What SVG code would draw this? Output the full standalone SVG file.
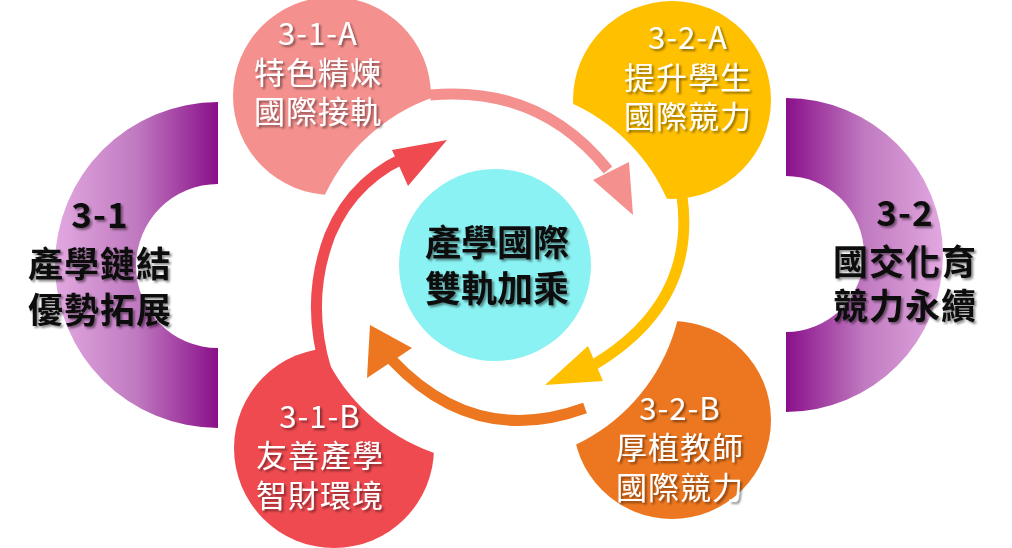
<svg xmlns="http://www.w3.org/2000/svg" width="1012" height="548" viewBox="0 0 1012 548">
<defs>
<linearGradient id="gl" x1="0" y1="0" x2="1" y2="0"><stop offset="0" stop-color="#e2a8e0"/><stop offset="0.5" stop-color="#c07ac0"/><stop offset="1" stop-color="#8a0f8a"/></linearGradient>
<linearGradient id="gr" x1="0" y1="0" x2="1" y2="0"><stop offset="0" stop-color="#8a0f8a"/><stop offset="0.5" stop-color="#c07ac0"/><stop offset="1" stop-color="#e2a8e0"/></linearGradient>
<filter id="sh" x="-10%" y="-10%" width="130%" height="130%"><feDropShadow dx="2" dy="2" stdDeviation="1.2" flood-color="#000" flood-opacity="0.45"/></filter>
</defs>
<style>
.w{font-family:"Noto Sans CJK TC","Noto Sans",sans-serif;font-size:31px;fill:#fff;text-anchor:middle;letter-spacing:1px;filter:url(#sh)}
.b{font-family:"Noto Sans CJK TC","Noto Sans",sans-serif;font-size:35px;font-weight:bold;fill:#111;text-anchor:middle;letter-spacing:1px;filter:url(#sh)}
.c{font-family:"Noto Sans CJK TC","Noto Sans",sans-serif;font-size:36px;font-weight:bold;fill:#111;text-anchor:middle;filter:url(#sh)}
.arc{fill:none;stroke-width:11}
</style>
<g id="bracket-3-1">
<path d="M218 102 A163 163 0 0 0 218 428 L218 348 A82 82 0 0 1 218 184 Z" fill="url(#gl)"/>
<text class="b" x="100" y="228">3-1</text>
<text class="b" x="100" y="277">產學鏈結</text>
<text class="b" x="100" y="323">優勢拓展</text>
</g>
<g id="bracket-3-2">
<path d="M786 98 A157 157 0 0 1 786 412 L786 332 A77 77 0 0 0 786 176 Z" fill="url(#gr)"/>
<text class="b" x="905" y="226">3-2</text>
<text class="b" x="905" y="275">國交化育</text>
<text class="b" x="905" y="319">競力永續</text>
</g>
<g id="circles">
<circle id="c31a" cx="332" cy="96" r="99" fill="#f4918f"/>
<circle id="c32a" cx="672" cy="100" r="99" fill="#ffc000"/>
<circle id="c31b" cx="334" cy="448" r="100" fill="#ee4a50"/>
<circle id="c32b" cx="672" cy="420" r="99" fill="#ec7720"/>
<circle cx="495" cy="275" r="188" fill="#fff"/>
</g>
<g id="connectors">
<path class="arc" stroke="#ee4a50" d="M326 370 Q305 300 330 235 Q355 175 418 152"/>
<polygon fill="#ee4a50" points="447,140 392,150 408,186"/>
<path class="arc" stroke="#f4918f" d="M430 95 Q540 85 608 170"/>
<polygon fill="#f4918f" points="633,215 593,180 629,162"/>
<path class="arc" stroke="#ffc000" d="M682 196 Q697 305 590 367"/>
<polygon fill="#ffc000" points="545,385 588,346 603,381"/>
<path class="arc" stroke="#ec7720" d="M585 408 Q475 448 392 360"/>
<polygon fill="#ec7720" points="370,325 367,378 412,348"/>
</g>
<g id="center">
<circle cx="495" cy="265" r="96" fill="#8af2f2"/>
<text class="c" x="497" y="256">產學國際</text>
<text class="c" x="497" y="302">雙軌加乘</text>
</g>
<g id="t31a"><text class="w" x="318" y="45">3-1-A</text><text class="w" x="318" y="84">特色精煉</text><text class="w" x="318" y="123">國際接軌</text></g>
<g id="t32a"><text class="w" x="688" y="49">3-2-A</text><text class="w" x="688" y="89">提升學生</text><text class="w" x="688" y="128">國際競力</text></g>
<g id="t31b"><text class="w" x="320" y="428">3-1-B</text><text class="w" x="320" y="467">友善產學</text><text class="w" x="320" y="507">智財環境</text></g>
<g id="t32b"><text class="w" x="680" y="420">3-2-B</text><text class="w" x="680" y="459">厚植教師</text><text class="w" x="680" y="499">國際競力</text></g>
</svg>
